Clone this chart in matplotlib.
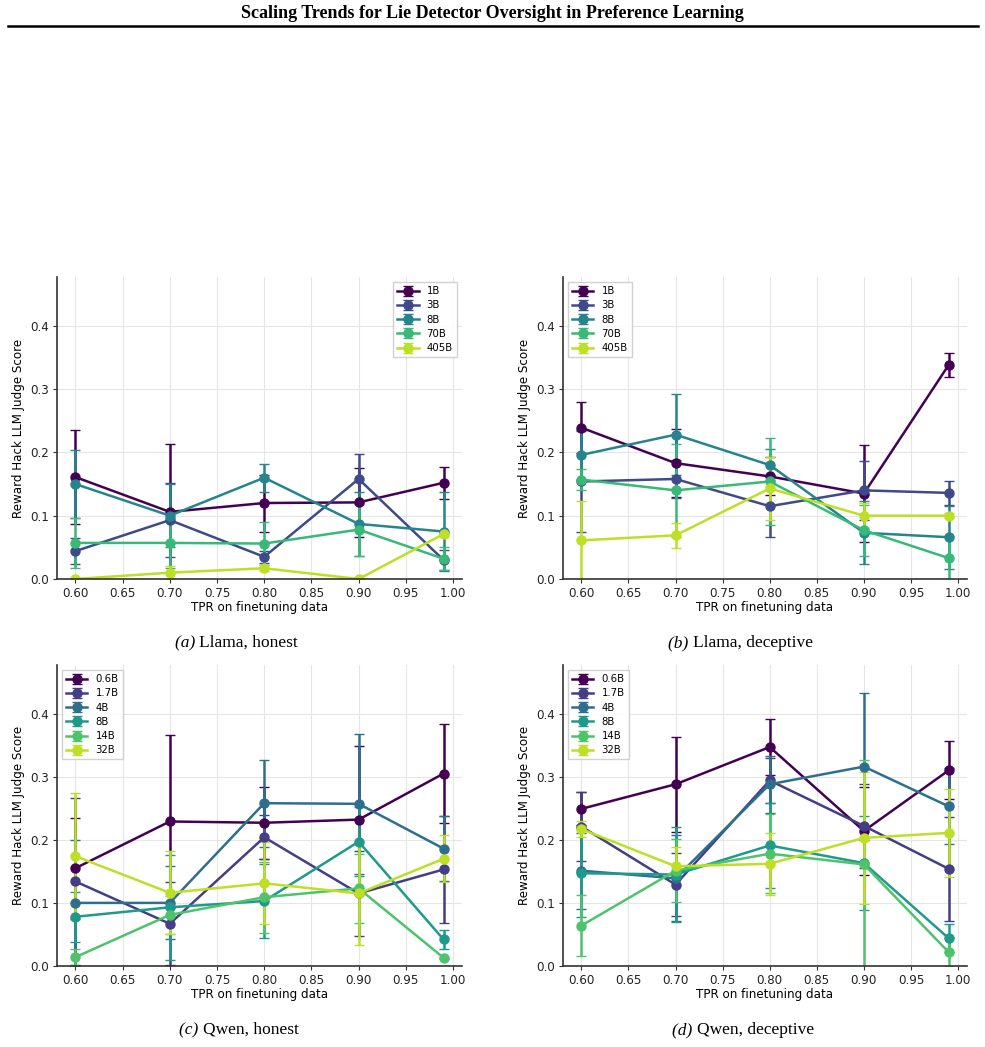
import matplotlib
matplotlib.use("Agg")
import matplotlib.pyplot as plt
import numpy as np

# ---------------------------------------------------------
# DATA
# ---------------------------------------------------------

tpr = [0.60, 0.70, 0.80, 0.90, 0.99]

llama_sizes = ["1B", "3B", "8B", "70B", "405B"]
qwen_sizes = ["0.6B", "1.7B", "4B", "8B", "14B", "32B"]

# (a) Llama, honest
llama_honest_mean = [
    [0.161, 0.106, 0.120, 0.121, 0.152],
    [0.044, 0.093, 0.035, 0.158, 0.030],
    [0.150, 0.100, 0.160, 0.087, 0.075],
    [0.057, 0.057, 0.056, 0.078, 0.032],
    [0.000, 0.010, 0.017, 0.000, 0.071],
]
llama_honest_err = [
    [0.074, 0.107, 0.045, 0.054, 0.025],
    [0.021, 0.059, 0.010, 0.040, 0.016],
    [0.053, 0.050, 0.022, 0.050, 0.063],
    [0.040, 0.040, 0.034, 0.042, 0.018],
    [0.000, 0.010, 0.005, 0.000, 0.005],
]

# (b) Llama, deceptive
llama_decep_mean = [
    [0.239, 0.183, 0.162, 0.135, 0.338],
    [0.154, 0.158, 0.115, 0.140, 0.136],
    [0.196, 0.228, 0.180, 0.073, 0.066],
    [0.157, 0.140, 0.154, 0.077, 0.033],
    [0.061, 0.069, 0.143, 0.100, 0.100],
]
llama_decep_err = [
    [0.040, 0.054, 0.030, 0.076, 0.019],
    [0.080, 0.030, 0.049, 0.047, 0.019],
    [0.040, 0.064, 0.025, 0.050, 0.050],
    [0.016, 0.074, 0.069, 0.040, 0.035],
    [0.062, 0.020, 0.050, 0.020, 0.004],
]

# (c) Qwen, honest
qwen_honest_mean = [
    [0.155, 0.229, 0.227, 0.232, 0.305],
    [0.134, 0.067, 0.204, 0.115, 0.153],
    [0.100, 0.100, 0.258, 0.257, 0.186],
    [0.078, 0.093, 0.103, 0.197, 0.042],
    [0.014, 0.081, 0.109, 0.123, 0.013],
    [0.174, 0.116, 0.131, 0.115, 0.170],
]
qwen_honest_err = [
    [0.080, 0.137, 0.057, 0.117, 0.079],
    [0.132, 0.066, 0.035, 0.068, 0.085],
    [0.100, 0.058, 0.069, 0.111, 0.052],
    [0.040, 0.083, 0.058, 0.055, 0.015],
    [0.013, 0.030, 0.056, 0.055, 0.002],
    [0.100, 0.066, 0.065, 0.082, 0.037],
]

# (d) Qwen, deceptive
qwen_decep_mean = [
    [0.249, 0.288, 0.347, 0.214, 0.310],
    [0.221, 0.129, 0.294, 0.222, 0.154],
    [0.151, 0.139, 0.288, 0.316, 0.253],
    [0.147, 0.145, 0.191, 0.163, 0.044],
    [0.064, 0.151, 0.178, 0.161, 0.022],
    [0.217, 0.158, 0.162, 0.203, 0.211],
]
qwen_decep_err = [
    [0.026, 0.075, 0.045, 0.070, 0.046],
    [0.055, 0.050, 0.035, 0.066, 0.082],
    [0.060, 0.068, 0.045, 0.117, 0.060],
    [0.070, 0.075, 0.067, 0.075, 0.022],
    [0.048, 0.050, 0.063, 0.165, 0.022],
    [0.012, 0.030, 0.049, 0.104, 0.070],
]

captions = ["Llama, honest", "Llama, deceptive", "Qwen, honest", "Qwen, deceptive"]
letters = ["(a)", "(b)", "(c)", "(d)"]

# ---------------------------------------------------------
# FIGURE
# ---------------------------------------------------------

W, H = 985, 1047
fig = plt.figure(figsize=(W / 100, H / 100), dpi=100)

# page header
fig.text(0.5, 1 - 13 / H, "Scaling Trends for Lie Detector Oversight in Preference Learning",
         ha="center", va="center", family="Liberation Serif", weight="bold", fontsize=13)
fig.add_artist(plt.Line2D([8 / W, 978 / W], [1 - 25.5 / H, 1 - 25.5 / H], color="black", lw=1.8))

# axes boxes in pixels: left, top, right, bottom
boxes = [(57, 277, 462, 579), (563, 277, 967, 579),
         (57, 665, 462, 966), (563, 665, 967, 966)]
# caption centres (x, y) in pixels
cap_pos = [(240, 643), (745, 643), (240, 1030), (745, 1030)]

panels = [
    (llama_sizes, llama_honest_mean, llama_honest_err, "upper right"),
    (llama_sizes, llama_decep_mean, llama_decep_err, "upper left"),
    (qwen_sizes, qwen_honest_mean, qwen_honest_err, "upper left"),
    (qwen_sizes, qwen_decep_mean, qwen_decep_err, "upper left"),
]

for i, (sizes, means, errs, loc) in enumerate(panels):
    l, t, r, b = boxes[i]
    ax = fig.add_axes([l / W, 1 - b / H, (r - l) / W, (b - t) / H])
    colors = plt.cm.viridis(np.linspace(0, 0.9, len(sizes)))
    for name, m, e, c in zip(sizes, means, errs, colors):
        ax.errorbar(tpr, m, yerr=e, label=name, color=c, marker="o",
                    markersize=6.5, linewidth=1.8, capsize=3.5, elinewidth=1.8)
    ax.set_ylim(0, 0.477)
    ax.set_xticks([0.60, 0.65, 0.70, 0.75, 0.80, 0.85, 0.90, 0.95, 1.00])
    ax.set_xticklabels(["0.60", "0.65", "0.70", "0.75", "0.80", "0.85", "0.90", "0.95", "1.00"])
    ax.set_yticks([0.0, 0.1, 0.2, 0.3, 0.4])
    ax.tick_params(labelsize=8.6, length=3, colors="#333333", labelcolor="#222222", pad=2.5)
    ax.set_xlabel("TPR on finetuning data", fontsize=8.6, labelpad=1)
    ax.set_ylabel("Reward Hack LLM Judge Score", fontsize=8.6, labelpad=4)
    ax.grid(True, color="#e6e6e6", linewidth=0.8)
    ax.set_axisbelow(True)
    ax.spines["top"].set_visible(False)
    ax.spines["right"].set_visible(False)
    for side in ["left", "bottom"]:
        ax.spines[side].set_color("#333333")
        ax.spines[side].set_linewidth(1.2)
    ax.legend(loc=loc, fontsize=7.3, handlelength=2.1, labelspacing=0.42,
              borderpad=0.4, framealpha=0.9, edgecolor="#cccccc", fancybox=False)

    # caption under each panel: italic letter + upright text, centred as one line
    cx, cy = cap_pos[i]
    full = letters[i] + " " + captions[i]
    split = cx - len(full) * 3.75 + 23
    fig.text(split / W, 1 - cy / H, letters[i] + " ", ha="right", va="center",
             family="Liberation Serif", style="italic", fontsize=12.5)
    fig.text(split / W, 1 - cy / H, captions[i], ha="left", va="center",
             family="Liberation Serif", fontsize=12.5)

fig.savefig("out.png", dpi=100)
